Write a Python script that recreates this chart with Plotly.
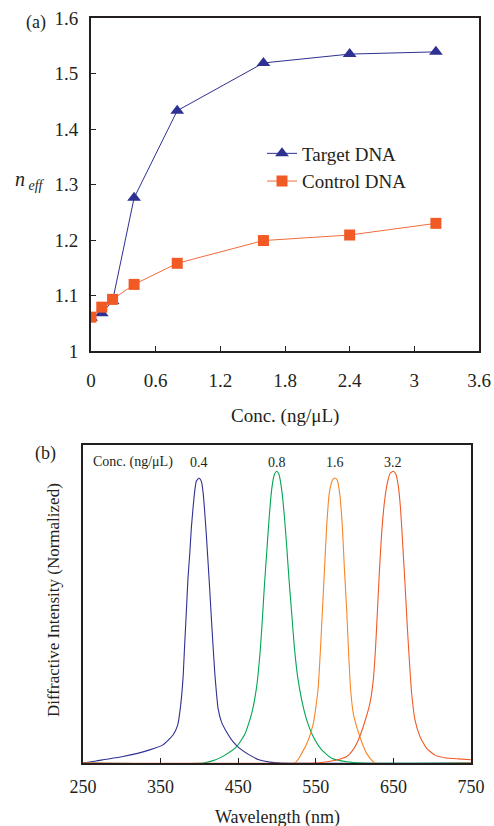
import plotly.graph_objects as go

# ---------------- Panel (a) data ----------------
conc = [0, 0.1, 0.2, 0.4, 0.8, 1.6, 2.4, 3.2]
n_target = [1.06, 1.068, 1.09, 1.276, 1.433, 1.519, 1.535, 1.539]
n_control = [1.061, 1.079, 1.093, 1.12, 1.158, 1.199, 1.209, 1.23]
xa_ticks = [0, 0.6, 1.2, 1.8, 2.4, 3.0, 3.6]
xa_ticktext = ["0", "0.6", "1.2", "1.8", "2.4", "3", "3.6"]
ya_ticks = [1.0, 1.1, 1.2, 1.3, 1.4, 1.5, 1.6]
ya_ticktext = ["1", "1.1", "1.2", "1.3", "1.4", "1.5", "1.6"]

# ---------------- Panel (b) data ----------------
blue_nm = [250, 267, 301.5, 336, 353, 366, 372, 375.5, 378.9, 381, 383.2, 385.3, 387.5,
           389.6, 391.8, 393.9, 396, 399.5, 402.5, 404.6, 406.8, 408.9, 411.1, 413.2, 415.4,
           417.5, 419.7, 421.8, 424, 428.3, 434.7, 443.3, 451.9, 464.8, 477.7, 490.5, 505, 750]
blue_int = [0, 0.007, 0.022, 0.045, 0.062, 0.096, 0.13, 0.19, 0.291, 0.405, 0.519, 0.634, 0.714,
            0.805, 0.874, 0.931, 0.966, 0.977, 0.966, 0.931, 0.863, 0.783, 0.691, 0.6, 0.497,
            0.405, 0.313, 0.245, 0.188, 0.142, 0.108, 0.073, 0.05, 0.027, 0.01, 0.003, 0, 0]

green_nm = [250, 405, 420, 433, 448, 458.8, 467.4, 473.8, 478.1, 481.1, 483.7, 486.7, 489.7,
            493.1, 496.6, 499.6, 502.6, 506, 509.5, 512.5, 515.5, 518.9, 522.3, 526.6, 531.8,
            538.2, 546.8, 557.6, 570.5, 590, 610, 750]
green_int = [0, 0, 0.01, 0.027, 0.056, 0.1, 0.17, 0.262, 0.376, 0.491, 0.605, 0.72, 0.834,
             0.937, 0.989, 1.0, 0.989, 0.937, 0.846, 0.743, 0.628, 0.514, 0.399, 0.296, 0.216,
             0.148, 0.09, 0.045, 0.016, 0.004, 0, 0]

orange_nm = [250, 523, 531.8, 540.4, 546.8, 550, 553.2, 556.2, 558.8, 561.4, 564, 567.4, 571.7,
             574.7, 577.7, 581.2, 584.2, 586.7, 589.8, 592.3, 594.9, 598.3, 602.6, 609.1,
             615.5, 622, 626.3, 750]
orange_int = [0, 0, 0.033, 0.079, 0.136, 0.19, 0.262, 0.399, 0.537, 0.674, 0.811, 0.926, 0.971,
              0.977, 0.969, 0.914, 0.811, 0.674, 0.525, 0.376, 0.251, 0.17, 0.125, 0.073,
              0.033, 0.01, 0, 0]

red_nm = [250, 550, 565, 577, 590, 598, 604.8, 611.2, 619.8, 624.1, 627.1, 629.7, 632.3, 634.9,
          638.3, 642.2, 646, 649.9, 653.3, 656.3, 659.3, 661.9, 664.9, 667.9, 670.5, 673.5,
          677.8, 684.3, 692.9, 703.6, 716.5, 733.7, 750]
red_int = [0, 0, 0.004, 0.01, 0.022, 0.045, 0.079, 0.125, 0.205, 0.285, 0.399, 0.537, 0.674, 0.788,
           0.891, 0.96, 0.994, 1.0, 0.989, 0.949, 0.868, 0.754, 0.617, 0.468, 0.354, 0.239,
           0.148, 0.09, 0.05, 0.027, 0.018, 0.014, 0.011]

peak_nm = [400, 500, 575, 650]
peak_labels = ["0.4", "0.8", "1.6", "3.2"]
xb_ticks = [250, 350, 450, 550, 650, 750]

W, H = 494, 826
FONT = "Times New Roman, Liberation Serif, serif"
INK = "#231f20"


def px_x(p):
    return p / W


def px_y(p):
    return (H - p) / H


fig = go.Figure()

fig.add_trace(go.Scatter(x=conc, y=n_target, mode="lines+markers", name="Target DNA",
                         line=dict(color="#2e3192", width=1),
                         marker=dict(symbol="triangle-up", size=12, color="#2e3192"),
                         xaxis="x", yaxis="y"))
fig.add_trace(go.Scatter(x=conc, y=n_control, mode="lines+markers", name="Control DNA",
                         line=dict(color="#f26b3f", width=1),
                         marker=dict(symbol="square", size=11, color="#f15a24"),
                         xaxis="x", yaxis="y"))

for nm, val, col in [(blue_nm, blue_int, "#2e3192"), (green_nm, green_int, "#00a651"),
                     (orange_nm, orange_int, "#f7862a"), (red_nm, red_int, "#f15a24")]:
    fig.add_trace(go.Scatter(x=nm, y=val, mode="lines", showlegend=False,
                             line=dict(color=col, width=1.1, shape="spline", smoothing=0.5),
                             xaxis="x2", yaxis="y2"))

axis_common = dict(showline=True, linecolor=INK, linewidth=2, mirror=True, automargin=False,
                   showgrid=False, zeroline=False, ticks="inside", ticklen=5,
                   tickcolor=INK, tickwidth=1,
                   tickfont=dict(family=FONT, size=19, color=INK))

fig.update_layout(
    template="none",
    width=W, height=H,
    margin=dict(l=0, r=0, t=0, b=0, pad=0, autoexpand=False),
    paper_bgcolor="white", plot_bgcolor="white",
    font=dict(family=FONT, color=INK),
    xaxis=dict(domain=[px_x(91), px_x(479)], range=[0, 3.6], anchor="y",
               tickvals=xa_ticks, ticktext=xa_ticktext, ticklabelstandoff=11, **axis_common),
    yaxis=dict(domain=[px_y(351), px_y(18)], range=[1.0, 1.6], anchor="x",
               tickvals=ya_ticks, ticktext=ya_ticktext, ticklabelstandoff=7, **axis_common),
    xaxis2=dict(domain=[px_x(83), px_x(471)], range=[250, 750], anchor="y2",
                tickvals=xb_ticks, ticklabelstandoff=6,
                **{**axis_common, "tickfont": dict(family=FONT, size=18, color=INK)}),
    yaxis2=dict(domain=[px_y(763), px_y(445)], range=[0, 1.09], anchor="x2",
                showticklabels=False, **{**axis_common, "ticks": ""}),
    showlegend=True,
    legend=dict(x=px_x(262), y=px_y(134.5), xanchor="left", yanchor="top",
                bgcolor="rgba(0,0,0,0)", font=dict(family=FONT, size=19, color=INK),
                itemwidth=30, tracegroupgap=0),
)

ann = []
ann.append(dict(text="(a)", x=px_x(36), y=px_y(23), font=dict(size=18)))
ann.append(dict(text="(b)", x=px_x(45), y=px_y(454), font=dict(size=18)))
ann.append(dict(text="<i>n</i><sub><i> eff</i></sub>", x=px_x(30), y=px_y(180), font=dict(size=20)))
ann.append(dict(text="Conc. (ng/μL)", x=px_x(285), y=px_y(416), font=dict(size=19)))
ann.append(dict(text="Wavelength (nm)", x=px_x(277), y=px_y(817), font=dict(size=18)))
ann.append(dict(text="Diffractive Intensity (Normalized)", x=px_x(53), y=px_y(600),
                textangle=-90, font=dict(size=17)))
ann.append(dict(text="Conc. (ng/μL)", x=px_x(133), y=px_y(462), font=dict(size=14)))
for a in ann:
    a.update(xref="paper", yref="paper", showarrow=False, xanchor="center", yanchor="middle")
    a["font"].update(family=FONT, color=INK)
for lbl, nm in zip(peak_labels, peak_nm):
    ann.append(dict(text=lbl, x=nm, xref="x2", y=px_y(462), yref="paper", showarrow=False,
                    xanchor="center", yanchor="middle", font=dict(family=FONT, size=14, color=INK)))
fig.update_layout(annotations=ann)

fig.write_html("out.html")
